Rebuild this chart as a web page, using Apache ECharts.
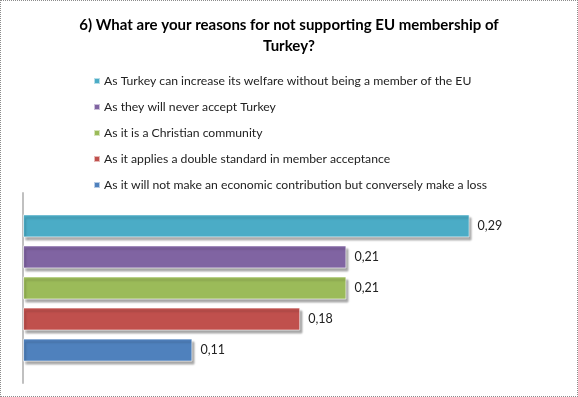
<!DOCTYPE html>
<html>
<head>
<meta charset="utf-8">
<script src="https://cdn.jsdelivr.net/npm/echarts@6/dist/echarts.min.js"></script>
<style>
    html, body { margin: 0; padding: 0; background: #fff; }
    #main { width: 578px; height: 397px; box-sizing: border-box; border: 1px dotted #8c8c8c; }
</style>
</head>
<body>
<div id="main"></div>
<script>
var titleText = '6) What are your reasons for not supporting EU membership of\nTurkey?';
var categories = [''];
var seriesNames = [
    'As Turkey can increase its welfare without being a member of the EU',
    'As they will never accept Turkey',
    'As it is a Christian community',
    'As it applies a double standard in member acceptance',
    'As it will not make an economic contribution but conversely make a loss'
];
var seriesValues = [0.29, 0.21, 0.21, 0.18, 0.11];
var colors = ['#4BACC6', '#8064A2', '#9BBB59', '#C0504D', '#4F81BD'];

function initEcharts() {
    var myChart = echarts.init(document.getElementById('main'));
    var series = [];
    for (var i = 0; i < seriesNames.length; i++) {
        series.push({
            name: seriesNames[i],
            type: 'bar',
            barWidth: 23,
            barGap: '35%',
            data: [seriesValues[i]],
            itemStyle: {
                color: colors[i],
                borderColor: 'rgba(255,255,255,0.6)',
                borderWidth: 1,
                shadowColor: 'rgba(0,0,0,0.35)',
                shadowOffsetX: 2,
                shadowOffsetY: 3,
                shadowBlur: 2
            },
            label: {
                show: true,
                position: 'right',
                distance: 8,
                fontFamily: 'Lato',
                fontSize: 12.5,
                color: '#222',
                // 逗号小数
                formatter: function (p) {
                    return p.value.toFixed(2).replace('.', ',');
                }
            }
        });
    }
    var option = {
        color: colors,
        animation: false,
        title: {
            text: titleText,
            left: 'center',
            top: 9,
            textStyle: {
                fontFamily: 'Lato',
                fontSize: 15,
                fontWeight: 'bold',
                color: '#000',
                lineHeight: 21
            }
        },
        // 图例
        legend: {
            orient: 'vertical',
            left: 87,
            top: 69,
            itemWidth: 6,
            itemHeight: 6,
            itemGap: 14,
            icon: 'rect',
            data: seriesNames,
            textStyle: {
                fontFamily: 'Lato',
                fontSize: 12.2,
                color: '#222',
                padding: [0, 0, 0, -1]
            }
        },
        grid: {
            left: 22,
            top: 192,
            width: 539,
            height: 190
        },
        xAxis: {
            type: 'value',
            min: 0,
            max: 0.35,
            show: false
        },
        yAxis: {
            type: 'category',
            data: categories,
            inverse: true,
            axisLine: { lineStyle: { color: '#c0c0c0', width: 2 } },
            axisTick: { show: false },
            axisLabel: { show: false }
        },
        series: series
    };
    myChart.setOption(option);
}

initEcharts();
</script>
</body>
</html>
